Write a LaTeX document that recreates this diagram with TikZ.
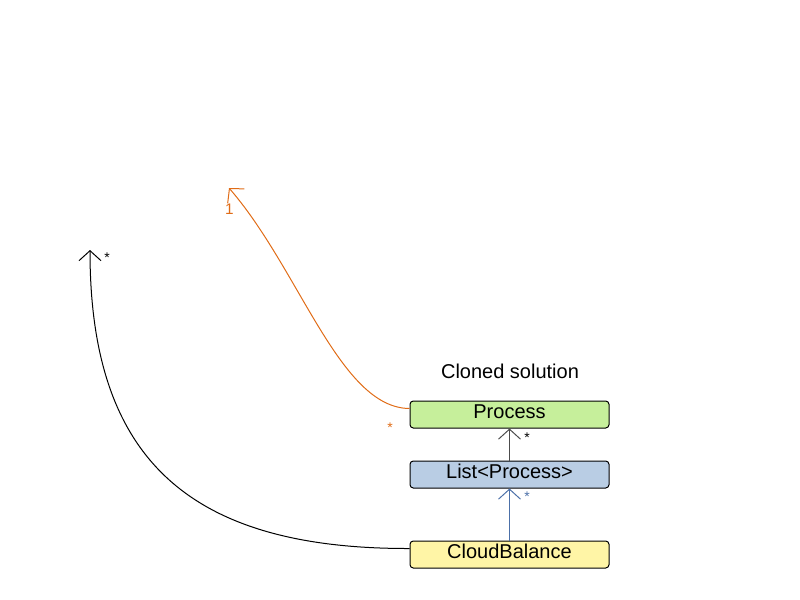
\documentclass[tikz,border=0pt]{standalone}
\usepackage{fontspec}
\setmainfont{Liberation Sans}
\usepackage{tikz}
\usetikzlibrary{arrows.meta,positioning}

\definecolor{procgreen}{HTML}{C6EF9B}
\definecolor{listblue}{HTML}{B9CDE4}
\definecolor{balyellow}{HTML}{FFF5A6}
\definecolor{linkorange}{HTML}{E06C17}
\definecolor{linkblue}{HTML}{4C70A8}

\tikzset{
  classbox/.style={draw=black, line width=0.75pt, rounded corners=2.5pt,
    minimum width=149.25pt, minimum height=20.25pt, inner sep=0pt,
    text height=11pt, text depth=5.5pt,
    font=\fontsize{15}{18}\selectfont},
  link/.style={line width=0.75pt, -{Straight Barb[length=7.5pt,width=16.5pt]}},
  mult/.style={inner sep=0.75pt, font=\fontsize{10.5}{12}\selectfont}
}

\begin{document}
\begin{tikzpicture}[x=0.75pt,y=0.75pt,yscale=-1,xscale=1]
        \useasboundingbox (0,0) rectangle (800,600);
        % Boxes
        \node [classbox, fill=procgreen] (process) at (509.5,414.5) {Process};
        \node [classbox, fill=listblue] (list) at (509.5,474.5) {List<Process>};
        \node [classbox, fill=balyellow] (balance) at (509.5,554.5) {CloudBalance};
        % Free ends
        \coordinate (procEnd) at (229,188);
        \coordinate (balEnd) at (90,250);
        % Links
        \draw [link, black!70] (list.north) -- (process.south);
        \draw [link, linkblue] (balance.north) -- (list.south);
        \draw [link, linkorange] ([yshift=-4.5pt]process.west) .. controls (340,408) and (300,270) .. (procEnd);
        \draw [link, black] ([yshift=-4.5pt]balance.west) .. controls (190,549) and (90,460) .. (balEnd);
        % Text Node
        \node [font=\fontsize{15}{18}\selectfont] (title) at (510,371) {Cloned solution};
        % Multiplicities
        \node [mult] (m1) at (527,438) {*};
        \node [mult, text=linkblue] (m2) at (527,497) {*};
        \node [mult, text=linkorange] (m3) at (390,428) {*};
        \node [mult, text=linkorange, font=\fontsize{11.5}{13}\selectfont] (m4) at (229.5,209.5) {1};
        \node [mult] (m5) at (107,258) {*};
\end{tikzpicture}
\end{document}
